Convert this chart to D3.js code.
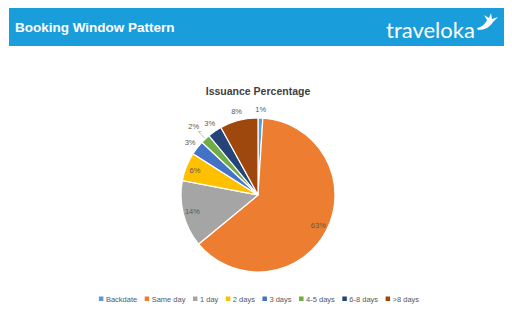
<!DOCTYPE html>
<html>
<head>
<meta charset="utf-8">
<script src="https://cdn.jsdelivr.net/npm/d3@7"></script>
<style>
  html, body { margin: 0; padding: 0; background: #ffffff; }
  svg { display: block; }
</style>
</head>
<body>
<svg id="chart" width="512" height="330"></svg>
<script>
// Booking window categories and their share of issuances (%)
const categories = ["Backdate", "Same day", "1 day", "2 days", "3 days", "4-5 days", "6-8 days", ">8 days"];
const issuance = [1, 63, 14, 6, 3, 2, 3, 8];
const colors = ["#5b9bd5", "#ed7d31", "#a5a5a5", "#ffc000", "#4472c4", "#70ad47", "#264478", "#9e480e"];
const pageTitle = "Booking Window Pattern";
const chartTitle = "Issuance Percentage";
const brand = "traveloka";

const svg = d3.select("#chart");

// Header band
svg.append("rect").attr("x", 9).attr("y", 8).attr("width", 495).attr("height", 38).attr("fill", "#1a9ddb");
svg.append("text")
  .attr("x", 15).attr("y", 32)
  .attr("font-family", "Liberation Sans, Arial, sans-serif")
  .attr("font-weight", "bold").attr("font-size", 13.5)
  .attr("fill", "#ffffff")
  .text(pageTitle);

// Brand wordmark with bird
svg.append("text")
  .attr("x", 386).attr("y", 38)
  .attr("font-family", "Lato, Open Sans, sans-serif")
  .attr("font-size", 22)
  .attr("fill", "#ffffff")
  .text(brand);
svg.append("path")
  .attr("d", "M477,28 C482,27 485,24 487,20 L484,15 L489,18 L491,13 L492,19 L498,17 L493,22 C490,27 485,30 478,30 Z")
  .attr("fill", "#ffffff");

// Chart title
svg.append("text")
  .attr("x", 258).attr("y", 95)
  .attr("text-anchor", "middle")
  .attr("font-family", "Liberation Sans, Arial, sans-serif")
  .attr("font-weight", "bold").attr("font-size", 10.5)
  .attr("fill", "#404040")
  .text(chartTitle);

// Pie
const cx = 258, cy = 195, R = 77;
const color = d3.scaleOrdinal().domain(categories).range(colors);
const pie = d3.pie().sort(null).value(d => d.v).startAngle(0).endAngle(2 * Math.PI);
const data = pie(categories.map((c, i) => ({ c, v: issuance[i] })));
const arc = d3.arc().innerRadius(0).outerRadius(R);

const g = svg.append("g").attr("transform", `translate(${cx},${cy})`);
g.selectAll("path.slice").data(data).join("path")
  .attr("class", "slice")
  .attr("d", arc)
  .attr("fill", d => color(d.data.c))
  .attr("stroke", "#ffffff")
  .attr("stroke-width", 1.2);

// Labels: large slices inside, small ones just outside the rim
const outside = new Set(["Backdate", "3 days", "4-5 days", "6-8 days", ">8 days"]);
const leader = new Set(["4-5 days"]);
function polar(a, r) { return [Math.sin(a) * r, -Math.cos(a) * r]; }

data.forEach(d => {
  const mid = (d.startAngle + d.endAngle) / 2;
  const isOut = outside.has(d.data.c);
  let r = isOut ? R + 9 : R * 0.88;
  if (leader.has(d.data.c)) r = R + 17;
  const [x, y] = polar(mid, r);
  if (leader.has(d.data.c)) {
    const [x1, y1] = polar(mid, R + 1);
    const [x2, y2] = polar(mid, R + 10);
    g.append("path")
      .attr("d", `M${x1},${y1} L${x2},${y2} L${x2 + 3},${y2}`)
      .attr("fill", "none").attr("stroke", "#a6a6a6").attr("stroke-width", 0.7);
  }
  g.append("text")
    .attr("x", x).attr("y", y)
    .attr("text-anchor", "middle")
    .attr("dominant-baseline", "central")
    .attr("font-family", "Liberation Sans, Arial, sans-serif")
    .attr("font-size", 7.5)
    .attr("fill", "#595959")
    .text(d.data.v + "%");
});

// Legend
const legend = svg.append("g");
const gap = 7.5;
let lx = 0;
categories.forEach(c => {
  const it = legend.append("g");
  it.append("rect").attr("x", 0).attr("y", -2.5).attr("width", 4.5).attr("height", 4.5).attr("fill", color(c));
  const t = it.append("text")
    .attr("x", 7).attr("y", 0)
    .attr("dominant-baseline", "central")
    .attr("font-family", "Liberation Sans, Arial, sans-serif")
    .attr("font-size", 7.5)
    .attr("fill", "#595959")
    .text(c);
  const w = 7 + t.node().getComputedTextLength();
  it.attr("transform", `translate(${lx},0)`);
  lx += w + gap;
});
const total = lx - gap;
legend.attr("transform", `translate(${259 - total / 2},299)`);
</script>
</body>
</html>
